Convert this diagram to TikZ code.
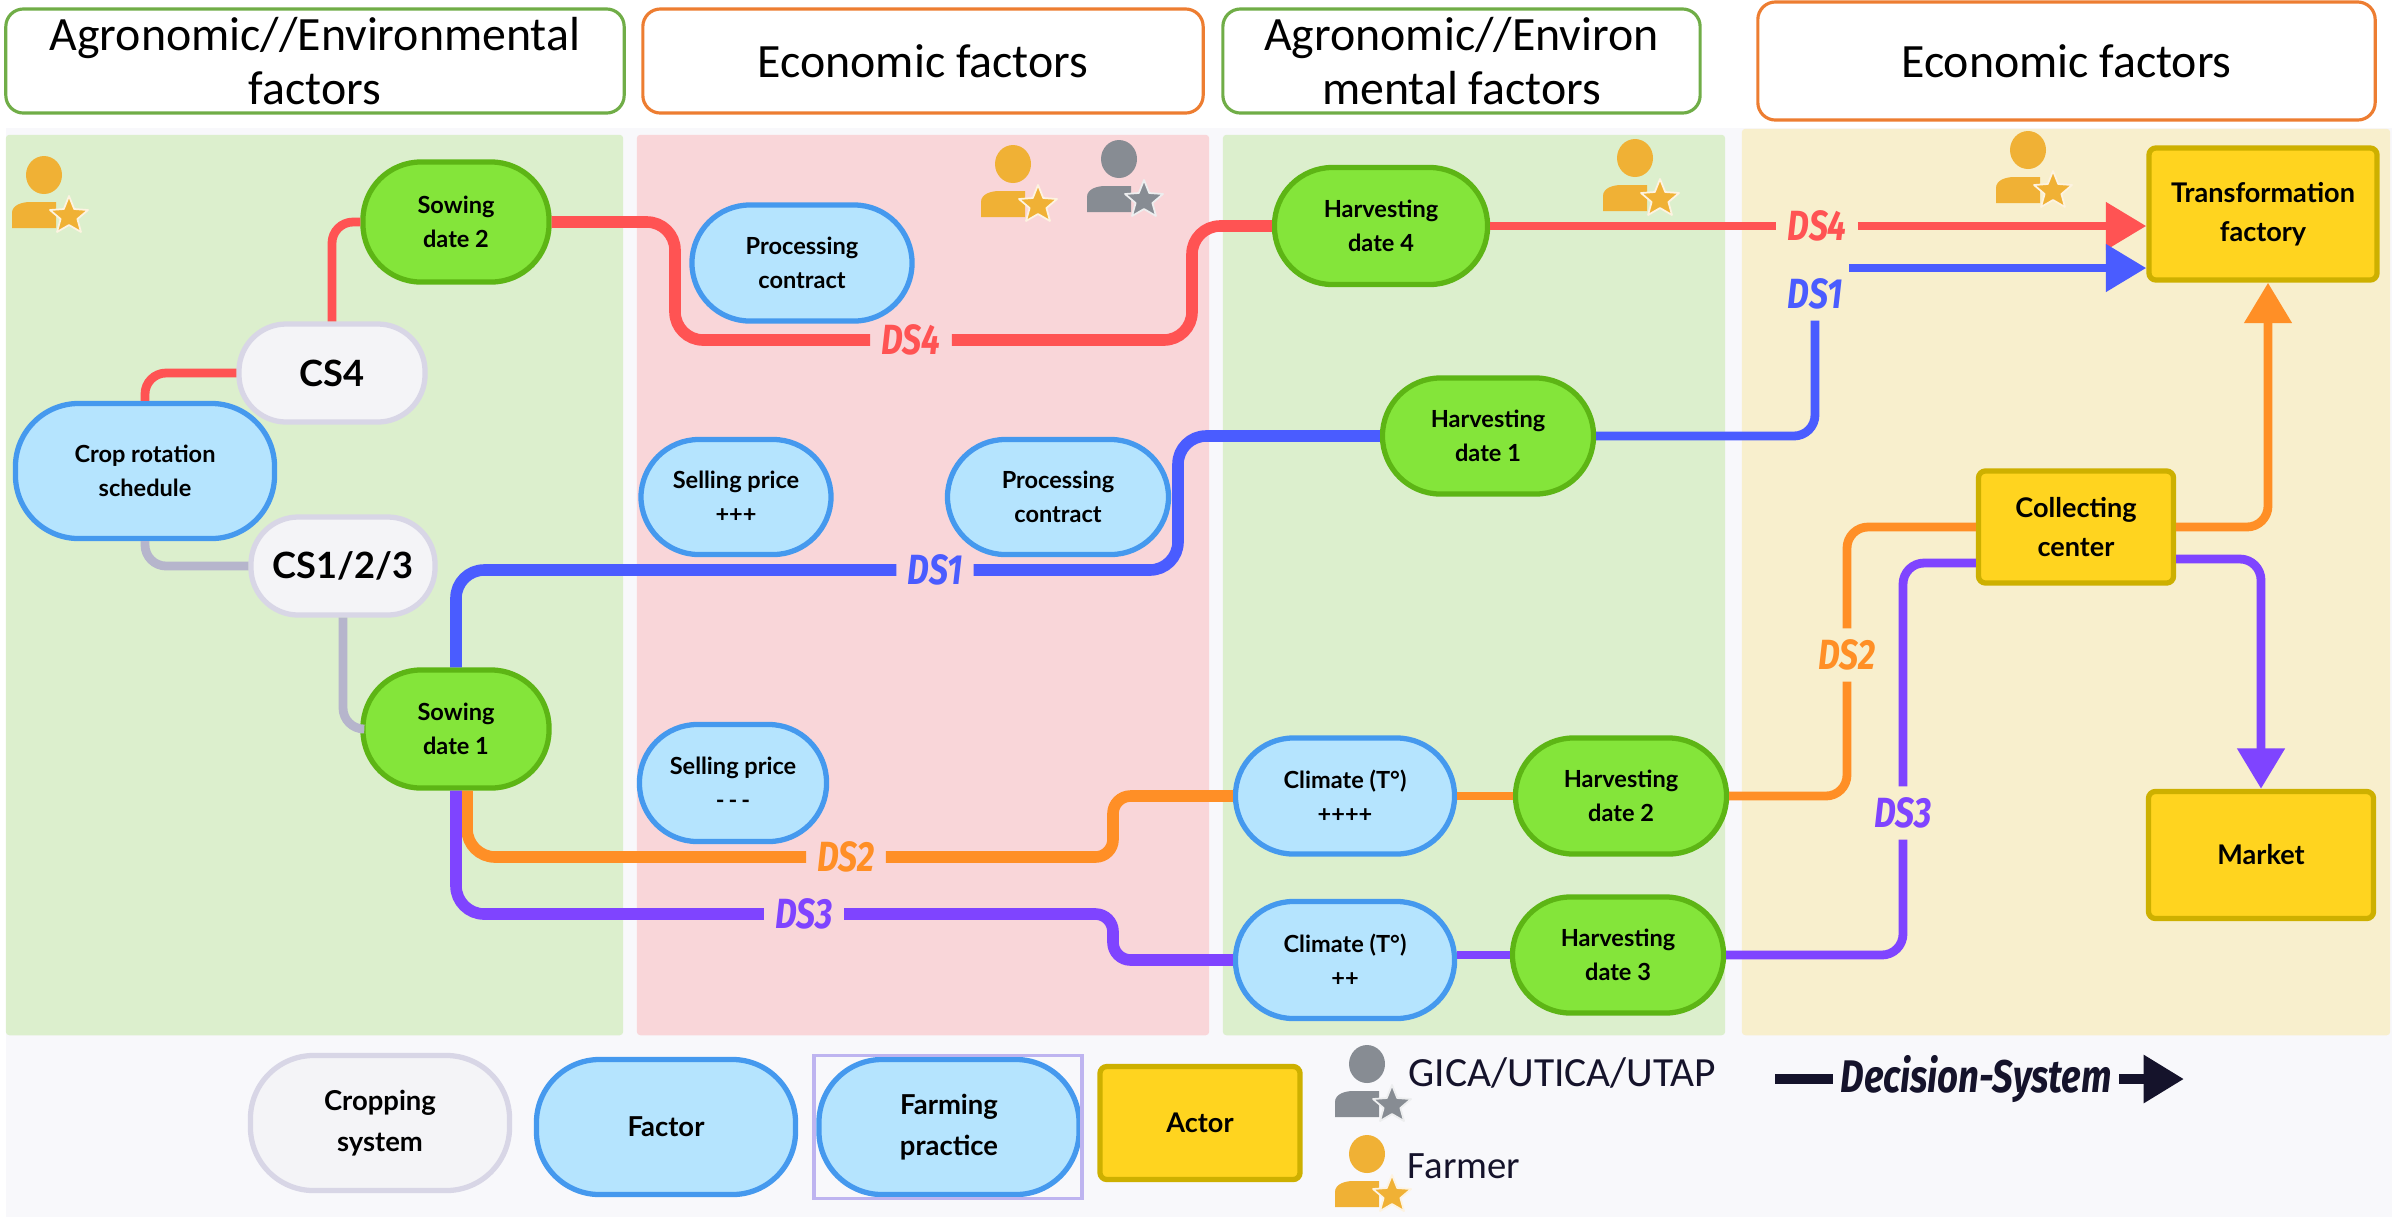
\documentclass[tikz,border=0pt]{standalone}
\usepackage{fontspec}
\setmainfont{Lato}
\newfontfamily\titlefont{Carlito}
\newfontfamily\dsfont[FakeStretch=0.8]{Fira Sans}
\usepackage{tikz}
\usetikzlibrary{arrows.meta}
\usetikzlibrary{calc}
\definecolor{bgcol}{HTML}{F8F8FB}
\definecolor{greenpanel}{HTML}{DCEFCD}
\definecolor{pinkpanel}{HTML}{F9D6D9}
\definecolor{yellowpanel}{HTML}{F8EFCD}
\definecolor{dsred}{HTML}{FF5353}
\definecolor{dsblue}{HTML}{4A5CFF}
\definecolor{dsorange}{HTML}{FF8F26}
\definecolor{dspurple}{HTML}{7F44FF}
\definecolor{dsgrey}{HTML}{B6B5CC}
\definecolor{dsdark}{HTML}{15132B}
\definecolor{personorange}{HTML}{F0B135}
\definecolor{persongrey}{HTML}{878C93}
\definecolor{headgreen}{HTML}{70AD47}
\definecolor{headorange}{HTML}{ED7D31}
\definecolor{factorline}{HTML}{4599EE}
\definecolor{factorfill}{HTML}{B5E4FE}
\definecolor{practiceline}{HTML}{5DB515}
\definecolor{practicefill}{HTML}{84E53A}
\definecolor{systemline}{HTML}{D8D6E6}
\definecolor{systemfill}{HTML}{F4F4F7}
\definecolor{actorline}{HTML}{CDB000}
\definecolor{actorfill}{HTML}{FFD41F}
\definecolor{frameline}{HTML}{BEB4F0}
\tikzset{
  basebox/.style={align=center, font=\fontsize{6.7}{9.6}\selectfont\bfseries, text=black, inner sep=0pt, rounded corners=16.5pt},
  factorbox/.style={basebox, line width=1.5pt, draw=factorline, fill=factorfill},
  practicebox/.style={basebox, line width=1.5pt, draw=practiceline, fill=practicefill},
  systembox/.style={basebox, line width=1.5pt, draw=systemline, fill=systemfill},
  actorbox/.style={basebox, font=\fontsize{7.7}{11.2}\selectfont\bfseries, rounded corners=2pt, line width=1.5pt, draw=actorline, fill=actorfill},
  legendfont/.style={font=\fontsize{7.8}{11.7}\selectfont\bfseries, rounded corners=18pt},
  headbox/.style={align=center, font=\titlefont\fontsize{13.6}{15.6}\selectfont, fill=white, inner sep=0pt, rounded corners=5pt, line width=0.9pt},
  panel/.style={inner sep=0pt, rounded corners=1pt},
  dslabel/.style={font=\dsfont\fontsize{12}{12}\selectfont\bfseries\itshape, inner sep=3pt},
  dsline/.style={line width=2.5pt, rounded corners=6pt},
  dsthick/.style={line width=3.3pt, rounded corners=8pt},
  dstip/.style={-{Triangle[length=11.5pt,width=13pt]}, line join=round},
}
\newcommand{\personicon}[3]{
  \begin{scope}[shift={(#1,#2)}]
    \fill[#3] (0,0) ellipse (18 and 19);
    \fill[#3] (-32,53) -- (-32,38) .. controls (-32,30) and (-22,27) .. (-14,27) -- (12,27) -- (12,53) -- cycle;
    \filldraw[fill=#3, draw=white!85!#3, line width=0.5pt, line join=round] (25,21) -- (30.2,34) -- (44,35) -- (33.4,44) -- (37,57) -- (25,50) -- (13,57) -- (16.6,44) -- (6,35) -- (19.8,34) -- cycle;
  \end{scope}
}
\begin{document}
\begin{tikzpicture}[x=0.01cm, y=-0.01cm]
\useasboundingbox (0,0) rectangle (2400,1217);
\fill[bgcol] (6,128) rectangle (2392,1217);
% panels
\node[panel, fill=greenpanel, minimum width=6.17cm, minimum height=9cm] (panelA) at (314.5,585) {};
\node[panel, fill=pinkpanel, minimum width=5.72cm, minimum height=9cm] (panelB) at (923,585) {};
\node[panel, fill=greenpanel, minimum width=5.02cm, minimum height=9cm] (panelC) at (1474,585) {};
\node[panel, fill=yellowpanel, minimum width=6.48cm, minimum height=9.06cm] (panelD) at (2066,582) {};
% headers
\node[headbox, draw=headgreen, minimum width=6.18cm, minimum height=1.04cm] (headA) at (315,61) {Agronomic//Environmental\\factors};
\node[headbox, draw=headorange, minimum width=5.6cm, minimum height=1.04cm] (headB) at (923,61) {Economic factors};
\node[headbox, draw=headgreen, minimum width=4.77cm, minimum height=1.04cm] (headC) at (1461.5,61) {Agronomic//Environ\\mental factors};
\node[headbox, draw=headorange, minimum width=6.17cm, minimum height=1.18cm] (headD) at (2066.5,61) {Economic factors};
% persons
\personicon{44}{175}{personorange}
\personicon{1013}{164}{personorange}
\personicon{1119}{159}{persongrey}
\personicon{1635}{158}{personorange}
\personicon{2028}{150}{personorange}
\personicon{1367}{1064}{persongrey}
\personicon{1367}{1154}{personorange}
% farming system nodes
\node[factorbox, rounded corners=18pt, minimum width=2.59cm, minimum height=1.35cm] (crop) at (145,471) {Crop rotation\\schedule};
\node[systembox, minimum width=1.86cm, minimum height=0.98cm, rounded corners=13.5pt, font=\fontsize{10.3}{12}\selectfont\bfseries] (csfour) at (332,373) {CS4};
\node[systembox, minimum width=1.84cm, minimum height=0.98cm, rounded corners=13.5pt, font=\fontsize{10.3}{12}\selectfont\bfseries] (csrest) at (343,566) {CS1/2/3};
\node[practicebox, minimum width=1.86cm, minimum height=1.2cm] (sowtwo) at (456,222) {Sowing\\date 2};
\node[practicebox, minimum width=1.86cm, minimum height=1.18cm] (sowone) at (456,729) {Sowing\\date 1};
\node[factorbox, minimum width=2.2cm, minimum height=1.16cm] (contractA) at (802,263) {Processing\\contract};
\node[factorbox, minimum width=1.9cm, minimum height=1.15cm] (priceA) at (736,497) {Selling price\\+++};
\node[factorbox, minimum width=2.21cm, minimum height=1.15cm] (contractB) at (1058,497) {Processing\\contract};
\node[factorbox, minimum width=1.87cm, minimum height=1.17cm] (priceB) at (733,783) {Selling price\\-\,-\,-};
\node[practicebox, minimum width=2.13cm, minimum height=1.17cm] (harvfour) at (1381,226) {Harvesting\\date 4};
\node[practicebox, minimum width=2.11cm, minimum height=1.16cm] (harvone) at (1488,436) {Harvesting\\date 1};
\node[factorbox, minimum width=2.19cm, minimum height=1.16cm] (climA) at (1345,796) {Climate (T°)\\++++};
\node[practicebox, minimum width=2.11cm, minimum height=1.16cm] (harvtwo) at (1621,796) {Harvesting\\date 2};
\node[factorbox, minimum width=2.19cm, minimum height=1.17cm] (climB) at (1345,960) {Climate (T°)\\++};
\node[practicebox, minimum width=2.11cm, minimum height=1.16cm] (harvthree) at (1618,955) {Harvesting\\date 3};
\node[actorbox, minimum width=2.28cm, minimum height=1.32cm] (factory) at (2263,214) {Transformation\\factory};
\node[actorbox, minimum width=1.95cm, minimum height=1.12cm] (collect) at (2076,527) {Collecting\\center};
\node[actorbox, minimum width=2.25cm, minimum height=1.27cm] (market) at (2261,855) {Market};
% DS labels
\node[dslabel, text=dsred] (dsfourA) at (911,340) {DS4};
\node[dslabel, text=dsred] (dsfourB) at (1817,226) {DS4};
\node[dslabel, text=dsblue] (dsoneA) at (935,570) {DS1};
\node[dslabel, text=dsblue] (dsoneB) at (1815,294) {DS1};
\node[dslabel, text=dsorange] (dstwoA) at (846,857) {DS2};
\node[dslabel, text=dsorange] (dstwoB) at (1847,655) {DS2};
\node[dslabel, text=dspurple] (dsthreeA) at (804,914) {DS3};
\node[dslabel, text=dspurple] (dsthreeB) at (1903,813) {DS3};
% bends
\coordinate (bendred) at (675,340);
\coordinate (bendredB) at (1192,226);
\coordinate (bendblue) at (1178,436);
\coordinate (bendorange) at (1113,796);
\coordinate (bendpurple) at (1113,960);
\coordinate (bluestart) at (1849,268);
% red
\draw[dsred, dsline] (crop.north) |- (csfour.west);
\draw[dsred, dsline] (csfour.north) |- (sowtwo.west);
\draw[dsred, dsthick] (sowtwo.east) -| (bendred) -- (dsfourA.west);
\draw[dsred, dsthick] (dsfourA.east) -| (bendredB) -- (harvfour.west);
\draw[dsred, dsline] (harvfour.east) -- (dsfourB.west);
\draw[dsred, dsline, dstip] (dsfourB.east) -- (dsfourB.east -| factory.west);
% grey
\draw[dsgrey, dsline] (crop.south) |- (csrest.west);
\draw[dsgrey, dsline] (csrest.south) |- (sowone.west);
% blue
\draw[dsblue, dsthick] (sowone.north) |- (dsoneA.west);
\draw[dsblue, dsthick] (dsoneA.east) -| (bendblue) -- (harvone.west);
\draw[dsblue, dsline] (harvone.east) -| (dsoneB.south);
\draw[dsblue, dsline, dstip] (bluestart) -- (bluestart -| factory.west);
% orange
\draw[dsorange, dsthick] ($(sowone.south)+(11,0)$) |- (dstwoA.west);
\draw[dsorange, dsthick, rounded corners=5pt] (dstwoA.east) -| (bendorange) -- (climA.west);
\draw[dsorange, dsline] (climA.east) -- (harvtwo.west);
\draw[dsorange, dsline] (harvtwo.east) -| (dstwoB.south);
\draw[dsorange, dsline] (dstwoB.north) |- (collect.west);
\draw[dsorange, dsline, dstip] (collect.east) -| ($(factory.south)+(5,0)$);
% purple
\draw[dspurple, dsthick] (sowone.south) |- (dsthreeA.west);
\draw[dspurple, dsthick, rounded corners=5pt] (dsthreeA.east) -| (bendpurple) -- (climB.west);
\draw[dspurple, dsline] (climB.east |- harvthree.west) -- (harvthree.west);
\draw[dspurple, dsline] (harvthree.east) -| (dsthreeB.south);
\draw[dspurple, dsline] (dsthreeB.north) |- ($(collect.west)+(0,36)$);
\draw[dspurple, dsline, dstip] ($(collect.east)+(0,32)$) -| (market.north);
% legend
\node[systembox, legendfont, minimum width=2.59cm, minimum height=1.35cm] (legsystem) at (380,1123) {Cropping\\system};
\node[factorbox, legendfont, minimum width=2.59cm, minimum height=1.35cm] (legfactor) at (666,1127) {Factor};
\node[factorbox, legendfont, minimum width=2.6cm, minimum height=1.35cm] (legpractice) at (949,1127) {Farming\\practice};
\node[draw=frameline, line width=1pt, inner sep=0pt, minimum width=2.68cm, minimum height=1.43cm] (legframe) at (948,1127) {};
\node[actorbox, minimum width=2cm, minimum height=1.13cm] (legactor) at (1200,1123) {Actor};
\node[font=\titlefont\fontsize{11.8}{12}\selectfont, text=dsdark, anchor=west, inner sep=0pt] (leggica) at (1408,1073) {GICA/UTICA/UTAP};
\node[font=\titlefont\fontsize{11}{12}\selectfont, text=dsdark, anchor=west, inner sep=0pt] (legfarmer) at (1407,1166) {Farmer};
\node[font=\dsfont\fontsize{13}{14}\selectfont\bfseries\itshape, text=dsdark, inner sep=2pt] (legds) at (1976,1079) {Decision-System};
\coordinate (legstart) at (1775,1079);
\coordinate (legend) at (2184,1079);
\draw[dsdark, line width=3pt] (legstart) -- (legds.west);
\draw[dsdark, line width=3pt, dstip] (legds.east) -- (legend);
\end{tikzpicture}
\end{document}
